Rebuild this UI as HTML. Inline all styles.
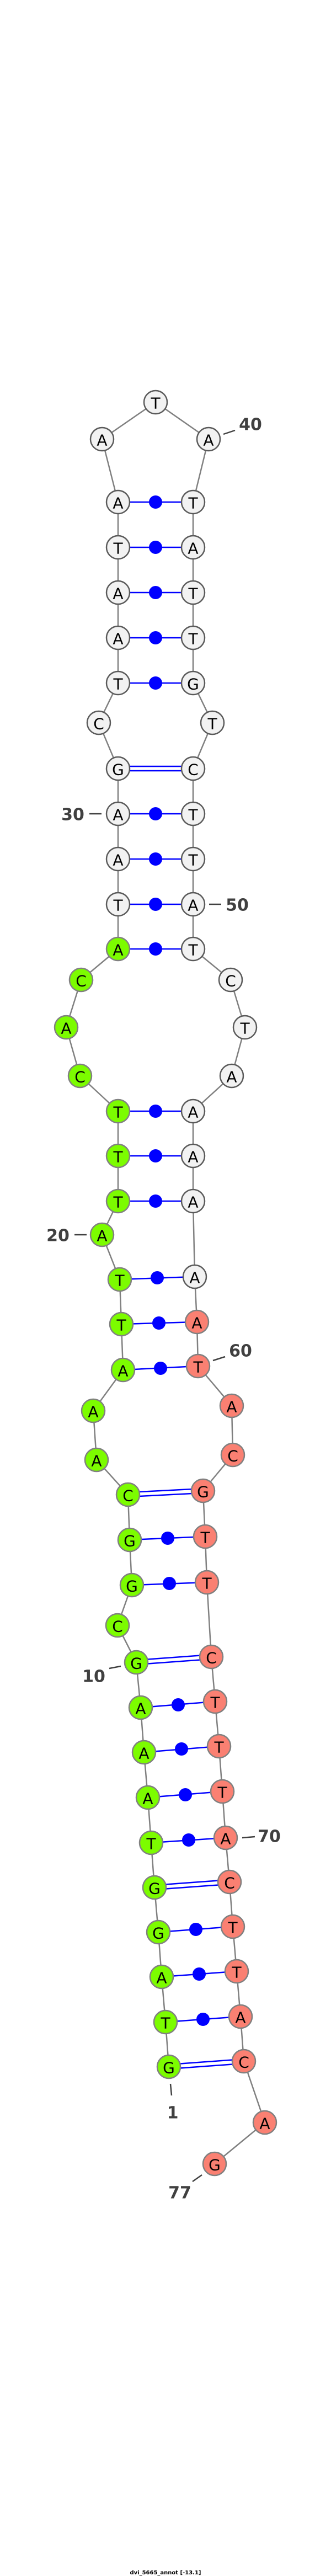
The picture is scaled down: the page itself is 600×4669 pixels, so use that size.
<!DOCTYPE html>
<html><head><meta charset="utf-8"><style>html,body{margin:0;padding:0;background:#fff}svg{display:block}</style></head>
<body>
<svg width="600" height="4669" viewBox="0 0 600 4669" xmlns="http://www.w3.org/2000/svg">
<g stroke="#808080" stroke-width="2.5" fill="none">
<polyline points="306,3746 300,3665 293,3583 287,3502 280,3421 274,3340 268,3258 261,3176 255,3095 247,3013 213,2946 239,2873 235,2791 232,2709 175,2646 169,2557 223,2483 220,2400 217,2319 185,2238 214,2177 214,2095 214,2014 145,1950 120,1862 147,1776 214,1720 214,1639 214,1557 214,1475 214,1393 179,1310 214,1238 214,1156 214,1074 214,992 214,910 185,796 282,729 378,796 350,910 350,992 350,1074 350,1156 350,1238 385,1310 350,1393 350,1475 350,1557 350,1639 350,1720 418,1776 444,1862 420,1950 350,2014 350,2095 350,2177 353,2314 357,2396 359,2476 420,2548 422,2637 368,2702 372,2785 375,2868 383,3003 390,3084 397,3165 403,3247 409,3331 416,3411 422,3492 429,3573 436,3655 442,3736 480,3847 389,3922"/>
</g>
<g stroke="#0000ff" stroke-width="2.5">
<line x1="306" y1="3742" x2="442" y2="3732"/><line x1="306" y1="3750" x2="442" y2="3740"/>
<line x1="300" y1="3665" x2="436" y2="3655"/>
<line x1="293" y1="3583" x2="429" y2="3573"/>
<line x1="287" y1="3502" x2="422" y2="3492"/>
<line x1="280" y1="3417" x2="416" y2="3407"/><line x1="280" y1="3425" x2="416" y2="3415"/>
<line x1="274" y1="3340" x2="409" y2="3331"/>
<line x1="268" y1="3258" x2="403" y2="3247"/>
<line x1="261" y1="3176" x2="397" y2="3165"/>
<line x1="255" y1="3095" x2="390" y2="3084"/>
<line x1="247" y1="3009" x2="383" y2="2999"/><line x1="247" y1="3017" x2="383" y2="3007"/>
<line x1="239" y1="2873" x2="375" y2="2868"/>
<line x1="235" y1="2791" x2="372" y2="2785"/>
<line x1="232" y1="2705" x2="368" y2="2698"/><line x1="232" y1="2713" x2="368" y2="2706"/>
<line x1="223" y1="2483" x2="359" y2="2476"/>
<line x1="220" y1="2400" x2="357" y2="2396"/>
<line x1="217" y1="2319" x2="353" y2="2314"/>
<line x1="214" y1="2177" x2="350" y2="2177"/>
<line x1="214" y1="2095" x2="350" y2="2095"/>
<line x1="214" y1="2014" x2="350" y2="2014"/>
<line x1="214" y1="1720" x2="350" y2="1720"/>
<line x1="214" y1="1639" x2="350" y2="1639"/>
<line x1="214" y1="1557" x2="350" y2="1557"/>
<line x1="214" y1="1475" x2="350" y2="1475"/>
<line x1="214" y1="1389" x2="350" y2="1389"/><line x1="214" y1="1397" x2="350" y2="1397"/>
<line x1="214" y1="1238" x2="350" y2="1238"/>
<line x1="214" y1="1156" x2="350" y2="1156"/>
<line x1="214" y1="1074" x2="350" y2="1074"/>
<line x1="214" y1="992" x2="350" y2="992"/>
<line x1="214" y1="910" x2="350" y2="910"/>
</g>
<g fill="#0000ff">
<circle cx="368" cy="3660" r="12"/><circle cx="361" cy="3578" r="12"/><circle cx="355" cy="3497" r="12"/>
<circle cx="342" cy="3335" r="12"/><circle cx="336" cy="3253" r="12"/><circle cx="329" cy="3170" r="12"/><circle cx="323" cy="3090" r="12"/>
<circle cx="307" cy="2870" r="12"/><circle cx="304" cy="2788" r="12"/>
<circle cx="291" cy="2480" r="12"/><circle cx="288" cy="2398" r="12"/><circle cx="285" cy="2316" r="12"/>
<circle cx="282" cy="2177" r="12"/><circle cx="282" cy="2095" r="12"/><circle cx="282" cy="2014" r="12"/>
<circle cx="282" cy="1720" r="12"/><circle cx="282" cy="1639" r="12"/><circle cx="282" cy="1557" r="12"/><circle cx="282" cy="1475" r="12"/>
<circle cx="282" cy="1238" r="12"/><circle cx="282" cy="1156" r="12"/><circle cx="282" cy="1074" r="12"/><circle cx="282" cy="992" r="12"/><circle cx="282" cy="910" r="12"/>
</g>
<g stroke-width="2.5">
<g fill="#7cfc00" stroke="#808080">
<circle cx="306" cy="3746" r="21"/><circle cx="300" cy="3665" r="21"/><circle cx="293" cy="3583" r="21"/><circle cx="287" cy="3502" r="21"/><circle cx="280" cy="3421" r="21"/><circle cx="274" cy="3340" r="21"/><circle cx="268" cy="3258" r="21"/><circle cx="261" cy="3176" r="21"/><circle cx="255" cy="3095" r="21"/><circle cx="247" cy="3013" r="21"/><circle cx="213" cy="2946" r="21"/><circle cx="239" cy="2873" r="21"/><circle cx="235" cy="2791" r="21"/><circle cx="232" cy="2709" r="21"/><circle cx="175" cy="2646" r="21"/><circle cx="169" cy="2557" r="21"/><circle cx="223" cy="2483" r="21"/><circle cx="220" cy="2400" r="21"/><circle cx="217" cy="2319" r="21"/><circle cx="185" cy="2238" r="21"/><circle cx="214" cy="2177" r="21"/><circle cx="214" cy="2095" r="21"/><circle cx="214" cy="2014" r="21"/><circle cx="145" cy="1950" r="21"/><circle cx="120" cy="1862" r="21"/><circle cx="147" cy="1776" r="21"/><circle cx="214" cy="1720" r="21"/>
</g>
<g fill="#f2f2f2" stroke="#5a5a5a">
<circle cx="214" cy="1639" r="21"/><circle cx="214" cy="1557" r="21"/><circle cx="214" cy="1475" r="21"/><circle cx="214" cy="1393" r="21"/><circle cx="179" cy="1310" r="21"/><circle cx="214" cy="1238" r="21"/><circle cx="214" cy="1156" r="21"/><circle cx="214" cy="1074" r="21"/><circle cx="214" cy="992" r="21"/><circle cx="214" cy="910" r="21"/><circle cx="185" cy="796" r="21"/><circle cx="282" cy="729" r="21"/><circle cx="378" cy="796" r="21"/><circle cx="350" cy="910" r="21"/><circle cx="350" cy="992" r="21"/><circle cx="350" cy="1074" r="21"/><circle cx="350" cy="1156" r="21"/><circle cx="350" cy="1238" r="21"/><circle cx="385" cy="1310" r="21"/><circle cx="350" cy="1393" r="21"/><circle cx="350" cy="1475" r="21"/><circle cx="350" cy="1557" r="21"/><circle cx="350" cy="1639" r="21"/><circle cx="350" cy="1720" r="21"/><circle cx="418" cy="1776" r="21"/><circle cx="444" cy="1862" r="21"/><circle cx="420" cy="1950" r="21"/><circle cx="350" cy="2014" r="21"/><circle cx="350" cy="2095" r="21"/><circle cx="350" cy="2177" r="21"/><circle cx="353" cy="2314" r="21"/>
</g>
<g fill="#fa8072" stroke="#808080">
<circle cx="357" cy="2396" r="21"/><circle cx="359" cy="2476" r="21"/><circle cx="420" cy="2548" r="21"/><circle cx="422" cy="2637" r="21"/><circle cx="368" cy="2702" r="21"/><circle cx="372" cy="2785" r="21"/><circle cx="375" cy="2868" r="21"/><circle cx="383" cy="3003" r="21"/><circle cx="390" cy="3084" r="21"/><circle cx="397" cy="3165" r="21"/><circle cx="403" cy="3247" r="21"/><circle cx="409" cy="3331" r="21"/><circle cx="416" cy="3411" r="21"/><circle cx="422" cy="3492" r="21"/><circle cx="429" cy="3573" r="21"/><circle cx="436" cy="3655" r="21"/><circle cx="442" cy="3736" r="21"/><circle cx="480" cy="3847" r="21"/><circle cx="389" cy="3922" r="21"/>
</g>
</g>
<g font-family="'DejaVu Sans','Liberation Sans',sans-serif" font-size="28" fill="#000" text-anchor="middle" dominant-baseline="central">
<text x="306" y="3748">G</text><text x="300" y="3667">T</text><text x="293" y="3585">A</text><text x="287" y="3504">G</text><text x="280" y="3423">G</text><text x="274" y="3342">T</text><text x="268" y="3260">A</text><text x="261" y="3178">A</text><text x="255" y="3097">A</text><text x="247" y="3015">G</text><text x="213" y="2948">C</text><text x="239" y="2875">G</text><text x="235" y="2793">G</text><text x="232" y="2711">C</text><text x="175" y="2648">A</text><text x="169" y="2559">A</text><text x="223" y="2485">A</text><text x="220" y="2402">T</text><text x="217" y="2321">T</text><text x="185" y="2240">A</text><text x="214" y="2179">T</text><text x="214" y="2097">T</text><text x="214" y="2016">T</text><text x="145" y="1952">C</text><text x="120" y="1864">A</text><text x="147" y="1778">C</text><text x="214" y="1722">A</text>
<text x="214" y="1641">T</text><text x="214" y="1559">A</text><text x="214" y="1477">A</text><text x="214" y="1395">G</text><text x="179" y="1312">C</text><text x="214" y="1240">T</text><text x="214" y="1158">A</text><text x="214" y="1076">A</text><text x="214" y="994">T</text><text x="214" y="912">A</text><text x="185" y="798">A</text><text x="282" y="731">T</text><text x="378" y="798">A</text><text x="350" y="912">T</text><text x="350" y="994">A</text><text x="350" y="1076">T</text><text x="350" y="1158">T</text><text x="350" y="1240">G</text><text x="385" y="1312">T</text><text x="350" y="1395">C</text><text x="350" y="1477">T</text><text x="350" y="1559">T</text><text x="350" y="1641">A</text><text x="350" y="1722">T</text><text x="418" y="1778">C</text><text x="444" y="1864">T</text><text x="420" y="1952">A</text><text x="350" y="2016">A</text><text x="350" y="2097">A</text><text x="350" y="2179">A</text><text x="353" y="2316">A</text>
<text x="357" y="2398">A</text><text x="359" y="2478">T</text><text x="420" y="2550">A</text><text x="422" y="2639">C</text><text x="368" y="2704">G</text><text x="372" y="2787">T</text><text x="375" y="2870">T</text><text x="383" y="3005">C</text><text x="390" y="3086">T</text><text x="397" y="3167">T</text><text x="403" y="3249">T</text><text x="409" y="3333">A</text><text x="416" y="3413">C</text><text x="422" y="3494">T</text><text x="429" y="3575">T</text><text x="436" y="3657">A</text><text x="442" y="3738">C</text><text x="480" y="3849">A</text><text x="389" y="3924">G</text>
</g>
<g stroke="#404040" stroke-width="2.5">
<line x1="405" y1="787" x2="426" y2="780"/>
<line x1="162" y1="1475" x2="184" y2="1475"/>
<line x1="379" y1="1639" x2="401" y2="1639"/>
<line x1="135" y1="2238" x2="157" y2="2238"/>
<line x1="386" y1="2466" x2="408" y2="2459"/>
<line x1="198" y1="3024" x2="219" y2="3020"/>
<line x1="439" y1="3331" x2="462" y2="3329"/>
<line x1="309" y1="3777" x2="311" y2="3798"/>
<line x1="349" y1="3954" x2="366" y2="3942"/>
</g>
<g font-family="'DejaVu Sans','Liberation Sans',sans-serif" font-size="30" font-weight="bold" fill="#404040" text-anchor="middle" dominant-baseline="central">
<text x="454" y="770">40</text>
<text x="132" y="1477">30</text>
<text x="430" y="1641">50</text>
<text x="105" y="2240">20</text>
<text x="436" y="2449">60</text>
<text x="170" y="3039">10</text>
<text x="488" y="3329">70</text>
<text x="313" y="3830">1</text>
<text x="326" y="3975">77</text>
</g>
<text x="300" y="4666" font-family="'DejaVu Sans','Liberation Sans',sans-serif" font-size="10" font-weight="bold" fill="#000" text-anchor="middle">dvi_5665_annot [-13.1]</text>
</svg>
</body></html>
